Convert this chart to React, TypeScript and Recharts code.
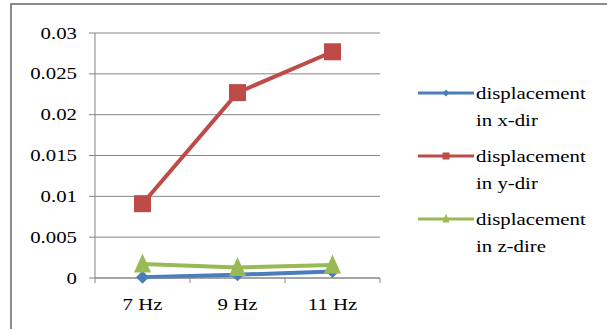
import React from 'react';
import { CartesianGrid, Line, LineChart, XAxis, YAxis } from 'recharts';

const categories = ['7 Hz', '9 Hz', '11 Hz'];
const dispX = [0.0001, 0.0004, 0.0008];
const dispY = [0.0091, 0.0227, 0.0277];
const dispZ = [0.0017, 0.0013, 0.0016];
const yTicks = [0, 0.005, 0.01, 0.015, 0.02, 0.025, 0.03];
// category boundaries (tick marks) and centres (labels)
const xTicks = [0, 0.5, 1, 1.5, 2, 2.5, 3];

const seriesInfo = [
  { key: 'x', name: ['displacement', 'in x-dir'], color: '#4A7EBB', shape: 'diamond' },
  { key: 'y', name: ['displacement', 'in y-dir'], color: '#BE4B48', shape: 'square' },
  { key: 'z', name: ['displacement', 'in z-dire'], color: '#98B954', shape: 'triangle' },
];

const data = categories.map((c, i) => ({ cat: c, idx: i + 0.5, x: dispX[i], y: dispY[i], z: dispZ[i] }));

const FONT = 'Liberation Serif';
const GRAY = '#868686';
const SX = 1.3;

function Marker({ cx, cy, shape, color, size }: any) {
  if (cx == null || cy == null) return null;
  const h = size / 2;
  if (shape === 'square') {
    return <rect x={cx - h} y={cy - h} width={size} height={size} fill={color} />;
  }
  if (shape === 'triangle') {
    return (
      <polygon
        points={`${cx},${cy - h - 2} ${cx + h},${cy + h} ${cx - h},${cy + h}`}
        fill={color}
      />
    );
  }
  return (
    <polygon points={`${cx},${cy - h} ${cx + h},${cy} ${cx},${cy + h} ${cx - h},${cy}`} fill={color} />
  );
}

function YTick({ x, y, payload }: any) {
  return (
    <g transform={`translate(${x},${y})`}>
      <text transform={`scale(${SX},1)`} textAnchor="end" dy="0.35em" fontSize={16} style={{ fontFamily: FONT }} fill="#000">
        {String(payload.value)}
      </text>
    </g>
  );
}

function XTick({ x, y, payload }: any) {
  const v = payload.value;
  if (Number.isInteger(v)) {
    return <line x1={x} y1={y - 8} x2={x} y2={y - 3} stroke={GRAY} />;
  }
  return (
    <g transform={`translate(${x},${y})`}>
      <text transform={`scale(${SX},1)`} textAnchor="middle" dy={24} fontSize={16} style={{ fontFamily: FONT }} fill="#000">
        {categories[Math.floor(v)]}
      </text>
    </g>
  );
}

function ChartLegend() {
  return (
    <div style={{ position: 'absolute', left: 416, top: 80, fontFamily: FONT, fontSize: 16, color: '#000' }}>
      {seriesInfo.map((s) => (
        <div key={s.key} style={{ display: 'flex', alignItems: 'flex-start', height: 63 }}>
          <svg width={60} height={20} style={{ marginTop: 3 }}>
            <line x1={2} y1={10} x2={58} y2={10} stroke={s.color} strokeWidth={3} />
            <Marker cx={30} cy={10} shape={s.shape} color={s.color} size={7} />
          </svg>
          <div style={{ lineHeight: '27px' }}>
            {s.name.map((n) => (
              <div key={n} style={{ transform: `scale(${SX},1)`, transformOrigin: 'left', whiteSpace: 'nowrap' }}>
                {n}
              </div>
            ))}
          </div>
        </div>
      ))}
    </div>
  );
}

export default function App() {
  return (
    <div style={{ position: 'absolute', left: 0, top: 0, width: 607, height: 329, background: '#fff', overflow: 'hidden' }}>
      <div style={{ position: 'absolute', left: 10, top: 3, width: 597, height: 2, background: '#8a8a8a' }} />
      <div style={{ position: 'absolute', left: 10, top: 3, width: 2, height: 326, background: '#8a8a8a' }} />
      <div style={{ position: 'absolute', left: 0, top: 0 }}>
        <LineChart width={607} height={329} data={data} margin={{ top: 33, right: 227, bottom: 21, left: 0 }}>
          <CartesianGrid vertical={false} stroke={GRAY} strokeWidth={1} />
          <XAxis
            dataKey="idx"
            type="number"
            domain={[0, 3]}
            ticks={xTicks}
            interval={0}
            axisLine={{ stroke: GRAY }}
            tickLine={false}
            tickSize={6}
            tickMargin={2}
            tick={<XTick />}
            height={30}
          />
          <YAxis
            domain={[0, 0.03]}
            ticks={yTicks}
            width={95}
            axisLine={{ stroke: GRAY }}
            tickLine={{ stroke: GRAY }}
            tickSize={6}
            tickMargin={12}
            tick={<YTick />}
          />
          {seriesInfo.map((s, idx) => (
            <Line
              key={s.key}
              dataKey={s.key}
              stroke={s.color}
              strokeWidth={4}
              isAnimationActive={false}
              dot={(p: any) => (
                <Marker key={p.index} cx={p.cx} cy={p.cy} shape={s.shape} color={s.color} size={idx === 0 ? 13 : 17} />
              )}
              activeDot={false}
            />
          ))}
        </LineChart>
      </div>
      <ChartLegend />
    </div>
  );
}
